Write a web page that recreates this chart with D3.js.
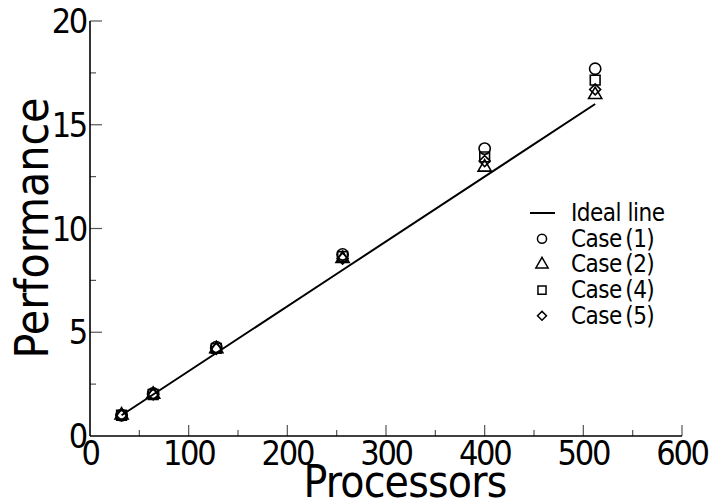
<!DOCTYPE html>
<html>
<head>
<meta charset="utf-8">
<script src="https://cdn.jsdelivr.net/npm/d3@7"></script>
<style>
  body { margin: 0; background: #fff; }
  text { font-family: "DejaVu Sans Condensed", "DejaVu Sans", sans-serif; font-stretch: condensed; fill: #000; }
</style>
</head>
<body>
<div id="chart"></div>
<script>
'use strict';

// processors on the x axis
const processors = [32, 64, 128, 256, 400, 512];
const ideal = [1, 2, 4, 8, 12.5, 16];
const case1 = [1.0, 2.05, 4.28, 8.75, 13.85, 17.7];
const case2 = [1.0, 2.0, 4.2, 8.55, 12.95, 16.45];
const case4 = [1.0, 2.0, 4.22, 8.65, 13.45, 17.15];
const case5 = [1.0, 2.0, 4.2, 8.55, 13.25, 16.7];
const xTicks = [0, 100, 200, 300, 400, 500, 600];
const yTicks = [0, 5, 10, 15, 20];
const legendNames = ["Ideal line", "Case (1)", "Case (2)", "Case (4)", "Case (5)"];

const W = 714, H = 504;
const svg = d3.select('#chart').append('svg').attr('width', W).attr('height', H);

const x = d3.scaleLinear().domain([0, 600]).range([90, 682]);
const y = d3.scaleLinear().domain([0, 20]).range([436, 21]);

// minor ticks
const xMinor = d3.range(50, 600, 100);
const yMinor = d3.range(2.5, 20, 5);

const g = svg.append('g');

// ticks point inward
g.selectAll('.xmaj').data(xTicks.slice(1)).enter().append('line')
  .attr('x1', d => x(d)).attr('x2', d => x(d))
  .attr('y1', y(0)).attr('y2', y(0) - 11)
  .attr('stroke', '#555').attr('stroke-width', 1.2);
g.selectAll('.xmin').data(xMinor).enter().append('line')
  .attr('x1', d => x(d)).attr('x2', d => x(d))
  .attr('y1', y(0)).attr('y2', y(0) - 6)
  .attr('stroke', '#555').attr('stroke-width', 1.2);
g.selectAll('.ymaj').data(yTicks.slice(1)).enter().append('line')
  .attr('x1', x(0)).attr('x2', x(0) + 12)
  .attr('y1', d => y(d)).attr('y2', d => y(d))
  .attr('stroke', '#555').attr('stroke-width', 1.2);
g.selectAll('.ymin').data(yMinor).enter().append('line')
  .attr('x1', x(0)).attr('x2', x(0) + 6)
  .attr('y1', d => y(d)).attr('y2', d => y(d))
  .attr('stroke', '#555').attr('stroke-width', 1.2);

// axis lines (left and bottom only)
g.append('line').attr('x1', x(0)).attr('x2', x(600)).attr('y1', y(0)).attr('y2', y(0))
  .attr('stroke', '#000').attr('stroke-width', 1.6);
g.append('line').attr('x1', x(0)).attr('x2', x(0)).attr('y1', y(0)).attr('y2', y(20))
  .attr('stroke', '#000').attr('stroke-width', 1.6);

// tick labels
g.selectAll('.xl').data(xTicks).enter().append('text')
  .attr('x', d => x(d)).attr('y', y(0) + 29)
  .attr('text-anchor', 'middle')
  .attr('font-size', 34).attr('letter-spacing', -2.3)
  .text(d => d);
g.selectAll('.yl').data(yTicks).enter().append('text')
  .attr('x', x(0) - 4).attr('y', d => y(d) + 12)
  .attr('text-anchor', 'end')
  .attr('font-size', 34).attr('letter-spacing', -2.3)
  .text(d => d);

// axis titles
svg.append('text').attr('x', 405).attr('y', 497)
  .attr('text-anchor', 'middle').attr('font-size', 44).attr('letter-spacing', -0.8)
  .text('Processors');
svg.append('text')
  .attr('transform', 'translate(48,228) rotate(-90)')
  .attr('text-anchor', 'middle').attr('font-size', 46).attr('letter-spacing', -0.1)
  .text('Performance');

// ideal line
const line = d3.line().x((d, i) => x(processors[i])).y(d => y(d));
svg.append('path').attr('d', line(ideal))
  .attr('fill', 'none').attr('stroke', '#000').attr('stroke-width', 2);

// markers
const shapes = [
  d3.symbol().type(d3.symbolCircle).size(100),
  d3.symbol().type(d3.symbolTriangle).size(75),
  d3.symbol().type(d3.symbolSquare).size(95),
  d3.symbol().type(d3.symbolSquare).size(60)
];
const rot = [0, 0, 0, 45];
const series = [case1, case2, case4, case5];

series.forEach(function (vals, k) {
  svg.append('g').selectAll('path').data(vals).enter().append('path')
    .attr('d', shapes[k]())
    .attr('transform', (d, i) => 'translate(' + x(processors[i]) + ',' + y(d) + ') rotate(' + rot[k] + ')')
    .attr('fill', 'none').attr('stroke', '#000').attr('stroke-width', 1.6);
});

// legend
const leg = svg.append('g');
const lx = 542, ly0 = 213, dy = 25.7;
leg.append('line').attr('x1', lx - 12).attr('x2', lx + 13).attr('y1', ly0).attr('y2', ly0)
  .attr('stroke', '#000').attr('stroke-width', 2);
for (let k = 0; k < 4; k++) {
  leg.append('path')
    .attr('d', d3.symbol().type(k == 0 ? d3.symbolCircle : k == 1 ? d3.symbolTriangle : d3.symbolSquare).size(k == 3 ? 40 : 65)())
    .attr('transform', 'translate(' + lx + ',' + (ly0 + dy * (k + 1)) + ') rotate(' + rot[k] + ')')
    .attr('fill', 'none').attr('stroke', '#000').attr('stroke-width', 1.5);
}
leg.selectAll('text').data(legendNames).enter().append('text')
  .attr('x', 571).attr('y', (d, i) => ly0 + dy * i + 8)
  .attr('font-size', 24).attr('letter-spacing', -0.5)
  .attr('word-spacing', (d, i) => i == 0 ? 0 : -3)
  .text(d => d);
</script>
</body>
</html>
